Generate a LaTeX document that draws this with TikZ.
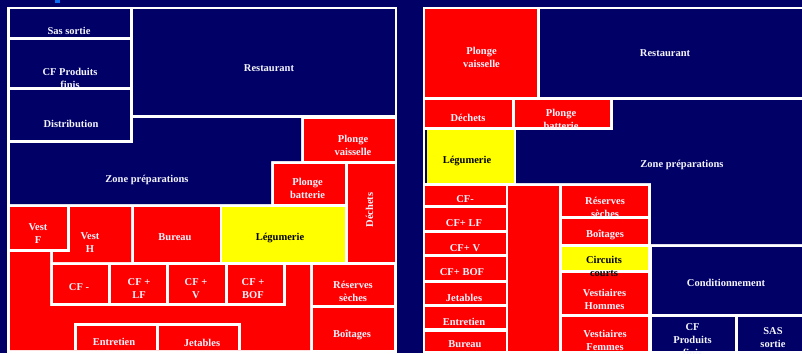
\documentclass[tikz,border=0pt]{standalone}
\usepackage{fontspec}
\setmainfont{Liberation Serif}
\definecolor{navy}{HTML}{000066}
\definecolor{roomred}{HTML}{FF0000}
\definecolor{roomyellow}{HTML}{FFFF00}
\definecolor{labelwhite}{HTML}{F4F4FF}
\definecolor{markblue}{HTML}{0A6EF0}
\begin{document}
\begin{tikzpicture}[x=1pt,y=-1pt,
    lbl/.style={text=labelwhite,font=\fontsize{10.5}{13}\selectfont\bfseries,align=center,inner sep=0pt,text height=7pt,text depth=2pt,yshift=-2pt},
    dlbl/.style={lbl,text=black}]
            \useasboundingbox (0,0) rectangle (802,353);
            \fill [navy] (0,0) rectangle (802,353);
            \fill [markblue] (55,0) rectangle (60,3);
            \fill [white] (7,7) rectangle (397,353);
            \fill [navy] (10,9) rectangle (130,37);
            \fill [navy] (10,40) rectangle (130,87);
            \fill [navy] (10,90) rectangle (130,140);
            \fill [navy] (133,9) rectangle (395,115);
            \fill [navy] (10,143) -- (133,143) -- (133,118) -- (301,118) -- (301,161) -- (271,161) -- (271,204) -- (10,204) -- cycle;
            \fill [roomred] (304,119) rectangle (395,161);
            \fill [roomred] (274,164) rectangle (345,204);
            \fill [roomred] (348,164) rectangle (395,262);
            \fill [roomred] (10,207) rectangle (67,249);
            \fill [roomred] (70,207) -- (131,207) -- (131,262) -- (53,262) -- (53,252) -- (70,252) -- cycle;
            \fill [roomred] (134,207) rectangle (220,262);
            \fill [roomyellow] (222,207) rectangle (345,262);
            \fill [roomred] (53,265) rectangle (108,303);
            \fill [roomred] (111,265) rectangle (166,303);
            \fill [roomred] (169,265) rectangle (225,303);
            \fill [roomred] (228,265) rectangle (283,303);
            \fill [roomred] (10,252) -- (50,252) -- (50,306) -- (286,306) -- (286,265) -- (310,265) -- (310,350) -- (10,350) -- cycle;
            \fill [white] (74,323) rectangle (241,350);
            \fill [roomred] (77,326) rectangle (156,350);
            \fill [roomred] (159,326) rectangle (238,350);
            \fill [roomred] (313,265) rectangle (394,305);
            \fill [roomred] (313,308) rectangle (394,350);
            \node [lbl] (sasL) at (69,30.5) {Sas sortie};
            \node [lbl] (cfpfL) at (70,84) {CF Produits\\finis};
            \node [lbl] (distribL) at (71,123) {Distribution};
            \node [lbl] (restoL) at (269,67) {Restaurant};
            \node [lbl] (plvaisL) at (353,151) {Plonge\\vaisselle};
            \node [lbl] (zoneL) at (147,178) {Zone préparations};
            \node [lbl] (plbatL) at (307.5,194) {Plonge\\batterie};
            \node [lbl,rotate=90] (dechetsL) at (370.5,208) {Déchets};
            \node [lbl] (vestfL) at (38,239) {Vest\\F};
            \node [lbl] (vesthL) at (90,248) {Vest\\H};
            \node [lbl] (bureauL) at (175,236) {Bureau};
            \node [dlbl] (legumL) at (280,236) {Légumerie};
            \node [lbl] (cfmL) at (79,286) {CF -};
            \node [lbl] (cflfL) at (139,294) {CF +\\LF};
            \node [lbl] (cfvL) at (196,293.5) {CF +\\V};
            \node [lbl] (cfbofL) at (253,294) {CF +\\BOF};
            \node [lbl] (reservL) at (353,297) {Réserves\\sèches};
            \node [lbl] (boitL) at (352,333) {Boîtages};
            \node [lbl] (entretL) at (114,341) {Entretien};
            \node [lbl] (jetabL) at (202,342) {Jetables};
            \fill [white] (423,7) rectangle (802,353);
            \fill [roomred] (425,9) rectangle (537,97);
            \fill [navy] (540,9) rectangle (802,97);
            \fill [roomred] (425,100) rectangle (512,127);
            \fill [roomred] (515,100) rectangle (610,127);
            \fill [navy] (613,100) -- (802,100) -- (802,244) -- (651,244) -- (651,183) -- (516,183) -- (516,130) -- (613,130) -- cycle;
            \fill [navy] (425,130) rectangle (427,183);
            \fill [roomyellow] (427,130) rectangle (514,183);
            \fill [roomred] (425,186) rectangle (506,205);
            \fill [roomred] (425,208) rectangle (506,230);
            \fill [roomred] (425,233) rectangle (506,254);
            \fill [roomred] (425,257) rectangle (506,280);
            \fill [roomred] (425,283) rectangle (506,304);
            \fill [roomred] (425,307) rectangle (506,328);
            \fill [roomred] (425,332) rectangle (506,351);
            \fill [roomred] (508,186) rectangle (559,351);
            \fill [roomred] (562,186) rectangle (648,216);
            \fill [roomred] (562,219) rectangle (648,244);
            \fill [roomyellow] (562,247) rectangle (648,270);
            \fill [roomred] (562,273) rectangle (648,314);
            \fill [roomred] (562,317) rectangle (648,351);
            \fill [navy] (652,247) rectangle (802,314);
            \fill [navy] (652,317) rectangle (735,351);
            \fill [navy] (738,317) rectangle (802,351);
            \node [lbl] (plvaisR) at (481.5,63) {Plonge\\vaisselle};
            \node [lbl] (restoR) at (665,52) {Restaurant};
            \node [lbl] (dechetsR) at (468,117) {Déchets};
            \node [lbl] (plbatR) at (561,125) {Plonge\\batterie};
            \node [dlbl] (legumR) at (467,159) {Légumerie};
            \node [lbl] (zoneR) at (682,163) {Zone préparations};
            \node [lbl] (cfmR) at (465,198) {CF-};
            \node [lbl] (cflfR) at (464,222) {CF+ LF};
            \node [lbl] (cfvR) at (465,247) {CF+ V};
            \node [lbl] (cfbofR) at (462,271) {CF+ BOF};
            \node [lbl] (jetabR) at (464,297) {Jetables};
            \node [lbl] (entretR) at (464,321) {Entretien};
            \node [lbl] (bureauR) at (465,343) {Bureau};
            \node [lbl] (reservR) at (605,213) {Réserves\\sèches};
            \node [lbl] (boitR) at (605,233) {Boîtages};
            \node [dlbl] (circR) at (604,272) {Circuits\\courts};
            \node [lbl] (vesthR) at (604.5,305) {Vestiaires\\Hommes};
            \node [lbl] (vestfR) at (605,346) {Vestiaires\\Femmes};
            \node [lbl] (condR) at (726,282) {Conditionnement};
            \node [lbl] (cfpfR) at (692.5,352) {CF\\Produits\\finis};
            \node [lbl] (sasR) at (773,343) {SAS\\sortie};
        \end{tikzpicture}
\end{document}
